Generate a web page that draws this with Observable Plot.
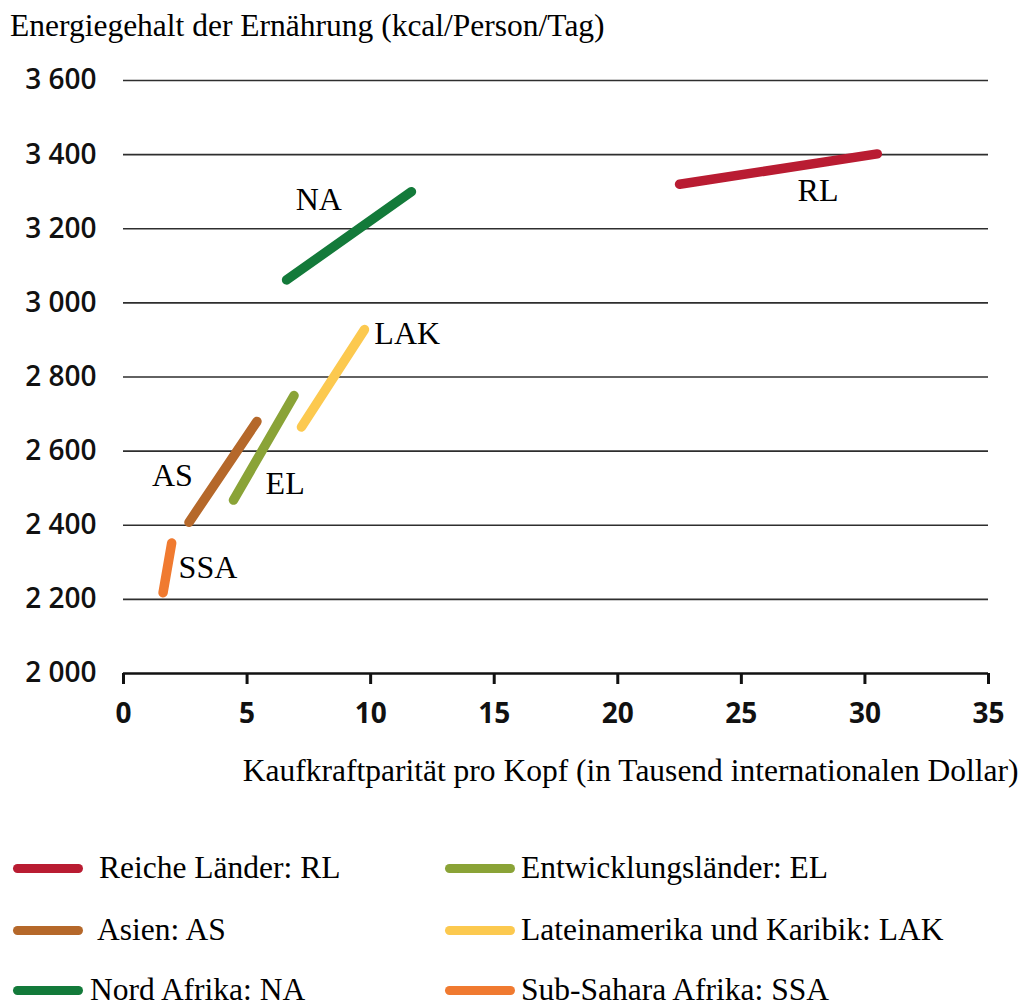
<!DOCTYPE html>
<html>
<head>
<meta charset="utf-8">
<script src="https://cdn.jsdelivr.net/npm/d3@7"></script>
<script src="https://cdn.jsdelivr.net/npm/@observablehq/plot@0.6"></script>
<style>
  html, body { margin: 0; padding: 0; background: #fff; overflow: hidden; }
  #title { height: 50px; font-family: "Liberation Serif", serif; font-size: 31.5px; color: #000; padding-left: 10px; line-height: 52px; white-space: nowrap; }
  #legend { position: relative; height: 187px; font-family: "Liberation Serif", serif; font-size: 31.5px; color: #000; }
  .item { position: absolute; display: flex; align-items: center; white-space: nowrap; }
  .item span { line-height: 1; }
  .sw { width: 70px; height: 9px; border-radius: 5px; }
</style>
</head>
<body>
<div id="title"></div>
<div id="chart"></div>
<div id="legend"></div>
<script>
// ---- data ----
const titleText = "Energiegehalt der Ernährung (kcal/Person/Tag)";
const xLabelText = "Kaufkraftparität pro Kopf (in Tausend internationalen Dollar)";
const codes = ["RL", "NA", "LAK", "EL", "AS", "SSA"];
const names = ["Reiche Länder", "Nord Afrika", "Lateinamerika und Karibik", "Entwicklungsländer", "Asien", "Sub-Sahara Afrika"];
const colors = ["#b91c32", "#137a3a", "#fcc94f", "#8aa337", "#b5682a", "#f07a30"];
const xStart = [22.5, 6.6, 7.2, 4.45, 2.65, 1.6];
const xEnd = [30.5, 11.65, 9.75, 6.9, 5.4, 1.95];
const yStart = [3320, 3062, 2665, 2468, 2408, 2218];
const yEnd = [3402, 3300, 2928, 2750, 2680, 2352];
const labelX = [28.1, 7.9, 10.15, 5.75, 1.98, 2.23];
const labelY = [3303, 3278, 2917, 2512, 2534, 2286];
const labelAnchor = ["middle", "middle", "start", "start", "middle", "start"];
const yTicks = [2000, 2200, 2400, 2600, 2800, 3000, 3200, 3400, 3600];
const yTickLabels = ["2 000", "2 200", "2 400", "2 600", "2 800", "3 000", "3 200", "3 400", "3 600"];
const xTicks = [0, 5, 10, 15, 20, 25, 30, 35];
const legendOrder = ["RL", "EL", "AS", "LAK", "NA", "SSA"];

// ---- build ----
document.getElementById("title").textContent = titleText;

const segs = [];
codes.forEach((c, i) => {
  segs.push({code: c, x: xStart[i], y: yStart[i]});
  segs.push({code: c, x: xEnd[i], y: yEnd[i]});
});
const labels = codes.map((c, i) => ({code: c, x: labelX[i], y: labelY[i], anchor: labelAnchor[i]}));
const color = Object.fromEntries(codes.map((c, i) => [c, colors[i]]));
const tickFont = "'Open Sans', 'DejaVu Sans', sans-serif";
const serif = "'Liberation Serif', 'Times New Roman', serif";

const chart = Plot.plot({
  width: 1024,
  height: 770,
  marginTop: 30,
  marginBottom: 147,
  marginLeft: 123,
  marginRight: 36,
  style: {fontFamily: tickFont, background: "#fff", overflow: "visible"},
  x: {domain: [0, 35]},
  y: {domain: [2000, 3600]},
  marks: [
    Plot.ruleY(yTicks.slice(1), {x1: 0, x2: 35, stroke: "#2e2e2e", strokeWidth: 1.7}),
    Plot.ruleY([2000], {x1: 0, x2: 35, stroke: "#111", strokeWidth: 2.5}),
    Plot.axisY({ticks: yTicks, tickFormat: (d) => yTickLabels[yTicks.indexOf(d)], tickSize: 0, tickPadding: 27,
      fontSize: 28, fontWeight: 600, fill: "#111", label: null}),
    Plot.axisX({ticks: xTicks, tickSize: 11, tickPadding: 19, strokeWidth: 3, stroke: "#111",
      fontSize: 28, fontWeight: 700, fill: "#111", label: null}),
    Plot.line(segs, {x: "x", y: "y", z: "code", stroke: (d) => color[d.code], strokeWidth: 9.5, strokeLinecap: "round"}),
    Plot.text(labels.filter(d => d.anchor === "middle"), {x: "x", y: "y", text: "code", textAnchor: "middle", fontSize: 32, fontFamily: serif, fill: "#000"}),
    Plot.text(labels.filter(d => d.anchor === "start"), {x: "x", y: "y", text: "code", textAnchor: "start", fontSize: 32, fontFamily: serif, fill: "#000"}),
    Plot.text([xLabelText], {frameAnchor: "bottom-right", text: (d) => d, dx: 30, dy: 97, lineAnchor: "middle", textAnchor: "end", fontSize: 31.5, fontFamily: serif, fill: "#000"})
  ]
});
document.getElementById("chart").appendChild(chart);

// legend
const legend = document.getElementById("legend");
const colX = [13, 445];
const rowY = [48, 110, 170];
const textGap = [[16, 6], [14, 6], [7, 6]];
legendOrder.forEach((c, k) => {
  const i = codes.indexOf(c);
  const col = k % 2, row = Math.floor(k / 2);
  const item = document.createElement("div");
  item.className = "item";
  item.style.left = colX[col] + "px";
  item.style.top = (rowY[row] - 16) + "px";
  item.style.height = "32px";
  const sw = document.createElement("div");
  sw.className = "sw";
  sw.style.background = colors[i];
  sw.style.marginRight = textGap[row][col] + "px";
  const tx = document.createElement("span");
  tx.textContent = names[i] + ": " + c;
  item.appendChild(sw);
  item.appendChild(tx);
  legend.appendChild(item);
});
</script>
</body>
</html>
